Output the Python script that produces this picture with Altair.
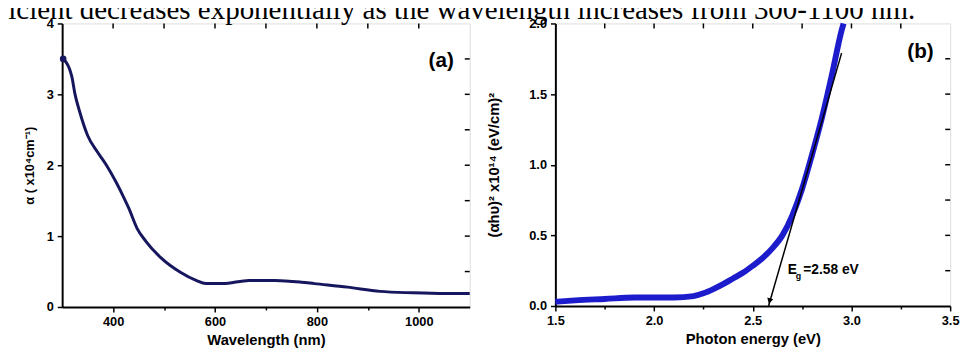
import altair as alt
import pandas as pd

# ---- data ----
wavelength = [302, 319, 325, 335, 350, 370, 387, 406, 422, 431, 447, 464, 493, 532,
              563, 582, 615, 667, 718, 770, 795, 860, 924, 988, 1053, 1100]
alpha = [3.50, 3.25, 3.01, 2.74, 2.42, 2.18, 2.00, 1.76, 1.53, 1.39, 1.11, 0.93, 0.70,
         0.49, 0.375, 0.33, 0.33, 0.375, 0.375, 0.35, 0.33, 0.28, 0.22, 0.20, 0.19, 0.19]

energy = [1.50, 1.60, 1.75, 1.90, 2.00, 2.10, 2.20, 2.25, 2.30, 2.35, 2.40, 2.45, 2.50,
          2.55, 2.60, 2.65, 2.70, 2.75, 2.80, 2.85, 2.90, 2.95, 2.96]
tauc = [0.03, 0.04, 0.05, 0.06, 0.06, 0.06, 0.07, 0.09, 0.12, 0.155, 0.195, 0.235, 0.285,
        0.34, 0.41, 0.50, 0.64, 0.83, 1.07, 1.33, 1.63, 1.95, 2.00]

tangent_e = [2.58, 2.95]
tangent_v = [0.0, 1.79]
eg_value = 2.58

a_xticks = [400, 500, 600, 700, 800, 900, 1000]
a_yticks = [0, 0.5, 1, 1.5, 2, 2.5, 3, 3.5, 4]
b_xticks = [1.5, 1.75, 2.0, 2.25, 2.5, 2.75, 3.0, 3.25, 3.5]
b_yticks = [0, 0.25, 0.5, 0.75, 1.0, 1.25, 1.5, 1.75, 2.0]

caption = "icient decreases exponentially as the wavelength increases from 300-1100 nm."
a_xtitle = "Wavelength (nm)"
a_ytitle = "α  ( x10⁴cm⁻¹)"
b_xtitle = "Photon energy (eV)"
b_ytitle = "(αhυ)² x10¹⁴ (eV/cm)²"

FONT = "Liberation Sans"
WA, HA = 414, 288
WB, HB = 401, 287

def axis(values, label_expr, fmt, minor_test, title_size=15, title_pad=4):
    return alt.Axis(values=values, labelExpr=label_expr, labelFlush=False, format=fmt,
                    labelFont=FONT, labelFontSize=13, labelFontWeight="bold", labelColor="black",
                    titleFont=FONT, titleFontSize=title_size, titleFontWeight="bold",
                    titleColor="black", titlePadding=title_pad,
                    domainColor="black", domainWidth=2, tickColor="black", tickWidth=1.5,
                    tickSize={"condition": {"test": minor_test, "value": 3}, "value": 5},
                    grid=False, labelPadding=4)

half = "abs(datum.value*2 - round(datum.value*2)) < 0.001"

# ---------- panel (a) ----------
da = pd.DataFrame({"wl": wavelength, "alpha": alpha})
xa = alt.Scale(domain=[300, 1100], nice=False, zero=False)
ya = alt.Scale(domain=[0, 4], nice=False)

line_a = alt.Chart(da).mark_line(color="#16165e", strokeWidth=3, interpolate="monotone").encode(
    x=alt.X("wl:Q", scale=xa, title=a_xtitle,
            axis=axis(a_xticks, "datum.value % 200 == 0 ? datum.label : ''", "d",
                      "datum.value % 200 != 0", title_pad=4)),
    y=alt.Y("alpha:Q", scale=ya, title=a_ytitle,
            axis=axis(a_yticks, "datum.value % 1 == 0 ? datum.label : ''", "d",
                      "datum.value % 1 != 0", title_size=13, title_pad=10)),
)
start_a = alt.Chart(da.head(1)).mark_point(color="#16165e", filled=True, size=45, opacity=1).encode(
    x=alt.X("wl:Q", scale=xa), y=alt.Y("alpha:Q", scale=ya))

top_a = alt.Chart(pd.DataFrame({"t": a_xticks})).mark_rule(color="black", strokeWidth=1.5).encode(
    x=alt.X("t:Q", scale=xa), y=alt.value(0), y2=alt.value(5))
right_a = alt.Chart(pd.DataFrame({"t": a_yticks[1:-1]})).mark_rule(color="black", strokeWidth=1.5).encode(
    y=alt.Y("t:Q", scale=ya), x=alt.value(WA), x2=alt.value(WA - 5))
lab_a = alt.Chart(pd.DataFrame({"x": [1044], "y": [3.47], "t": ["(a)"]})).mark_text(
    font=FONT, fontSize=21, fontWeight="bold", color="black").encode(
    x=alt.X("x:Q", scale=xa), y=alt.Y("y:Q", scale=ya), text="t:N")

panel_a = alt.layer(line_a, start_a, top_a, right_a, lab_a).properties(width=WA, height=HA)

# ---------- panel (b) ----------
db = pd.DataFrame({"e": energy, "v": tauc})
xb = alt.Scale(domain=[1.5, 3.5], nice=False, zero=False)
yb = alt.Scale(domain=[0, 2], nice=False)

line_b = alt.Chart(db).mark_line(color="#1c1ccc", strokeWidth=6, interpolate="monotone").encode(
    x=alt.X("e:Q", scale=xb, title=b_xtitle,
            axis=axis(b_xticks, half + " ? datum.label : ''", ".1f", "!(" + half + ")",
                      title_pad=4)),
    y=alt.Y("v:Q", scale=yb, title=b_ytitle,
            axis=axis(b_yticks, half + " ? datum.label : ''", ".1f", "!(" + half + ")",
                      title_size=15, title_pad=28)),
)
tan_b = alt.Chart(pd.DataFrame({"e": tangent_e, "v": tangent_v})).mark_line(
    color="black", strokeWidth=1.5).encode(x=alt.X("e:Q", scale=xb), y=alt.Y("v:Q", scale=yb))
arrow_b = alt.Chart(pd.DataFrame({"e": [eg_value + 0.005], "v": [0.035]})).mark_point(
    shape="triangle-down", filled=True, color="black", size=40, angle=16, opacity=1).encode(
    x=alt.X("e:Q", scale=xb), y=alt.Y("v:Q", scale=yb))
top_b = alt.Chart(pd.DataFrame({"t": b_xticks[1:-1]})).mark_rule(color="black", strokeWidth=1.5).encode(
    x=alt.X("t:Q", scale=xb), y=alt.value(0), y2=alt.value(5))
right_b = alt.Chart(pd.DataFrame({"t": b_yticks[1:-1]})).mark_rule(color="black", strokeWidth=1.5).encode(
    y=alt.Y("t:Q", scale=yb), x=alt.value(WB), x2=alt.value(WB - 5))
lab_b = alt.Chart(pd.DataFrame({"x": [3.35], "y": [1.80], "t": ["(b)"]})).mark_text(
    font=FONT, fontSize=21, fontWeight="bold", color="black").encode(
    x=alt.X("x:Q", scale=xb), y=alt.Y("y:Q", scale=yb), text="t:N")

eg_df = pd.DataFrame({"x": [2.677, 2.718, 2.756], "y": [0.228, 0.19, 0.228],
                      "t": ["E", "g", "=2.58 eV"], "s": [14, 9, 14]})
eg_txt = alt.Chart(eg_df).mark_text(font=FONT, fontWeight="bold", color="black",
                                    align="left", baseline="alphabetic").encode(
    x=alt.X("x:Q", scale=xb), y=alt.Y("y:Q", scale=yb), text="t:N",
    size=alt.Size("s:Q", scale=None, legend=None))

panel_b = alt.layer(line_b, tan_b, arrow_b, top_b, right_b, lab_b, eg_txt).properties(width=WB, height=HB)

chart = alt.hconcat(panel_a, panel_b, spacing=87, bounds="flush").properties(
    title=alt.TitleParams(caption, font="Liberation Serif", fontSize=29.4, fontWeight="normal",
                          color="black", anchor="start", offset=-14, dx=-15),
    padding={"left": 0, "top": -16, "right": 0, "bottom": 0},
).configure_view(stroke="black", strokeWidth=2).configure(background="white")

chart.save("out.html", embed_options={"renderer": "svg", "actions": False})
